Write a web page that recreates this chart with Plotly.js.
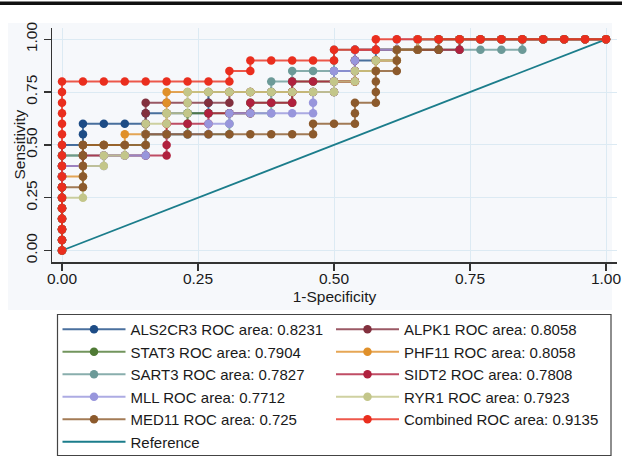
<!DOCTYPE html>
<html>
<head>
<meta charset="utf-8">
<script src="https://cdn.plot.ly/plotly-3.0.1.min.js"></script>
<style>html,body{margin:0;padding:0;background:#fff;}#chart{width:622px;height:458px;}</style>
</head>
<body>
<div id="chart"></div>
<script>
// ROC points: [1-specificity, sensitivity]
const als2cr3 = [[0,0],[0,.05],[0,.1],[0,.15],[0,.2],[0,.25],[0,.3],[0,.35],[0,.4],[0,.45],[0,.5],
 [.0385,.5],[.0385,.55],[.0385,.6],[.0769,.6],[.1154,.6],[.1538,.6],[.1538,.65],[.1923,.65],[.2308,.65],[.2692,.65],[.2692,.7],[.2692,.75],
 [.3077,.75],[.3462,.75],[.3846,.75],[.4231,.75],[.4615,.75],[.5,.75],[.5,.8],[.5,.85],[.5385,.85],[.5385,.9],[.5769,.9],[.5769,.95],[.6154,.95],[.6538,.95],[.6538,1],
 [.6923,1],[.7308,1],[.7692,1],[.8077,1],[.8462,1],[.8846,1],[.9231,1],[.9615,1],[1,1]];
const alpk1 = [[0,0],[0,.05],[0,.1],[0,.15],[0,.2],[0,.25],[0,.3],[0,.35],[0,.4],
 [.0385,.4],[.0385,.45],[.0385,.5],[.0769,.5],[.1154,.5],[.1538,.5],[.1538,.55],[.1538,.6],[.1538,.65],[.1538,.7],[.1923,.7],[.2308,.7],[.2692,.7],[.3077,.7],[.3077,.75],
 [.3462,.75],[.3846,.75],[.4231,.75],[.4615,.75],[.5,.75],[.5,.8],[.5385,.8],[.5385,.85],[.5769,.85],[.5769,.9],[.6154,.9],[.6154,.95],[.6538,.95],[.6538,1],
 [.6923,1],[.7308,1],[.7692,1],[.8077,1],[.8462,1],[.8846,1],[.9231,1],[.9615,1],[1,1]];
const stat3 = [[0,0],[0,.05],[0,.1],[0,.15],[0,.2],[0,.25],[0,.3],[0,.35],[0,.4],[0,.45],
 [.0385,.45],[.0385,.5],[.0769,.5],[.1154,.5],[.1538,.5],[.1538,.55],[.1923,.55],[.2308,.55],[.2308,.6],[.2308,.65],[.2692,.65],[.3077,.65],[.3462,.65],[.3462,.7],
 [.3846,.7],[.4231,.7],[.4231,.75],[.4231,.8],[.4615,.8],[.5,.8],[.5385,.8],[.5385,.85],[.5385,.9],[.5385,.95],[.5769,.95],[.6154,.95],[.6538,.95],[.6923,.95],[.7308,.95],[.7308,1],
 [.7692,1],[.8077,1],[.8462,1],[.8846,1],[.9231,1],[.9615,1],[1,1]];
const phf11 = [[0,0],[0,.05],[0,.1],[0,.15],[0,.2],[0,.25],[0,.3],[0,.35],
 [.0385,.35],[.0385,.4],[.0385,.45],[.0385,.5],[.0769,.5],[.1154,.5],[.1154,.55],[.1538,.55],[.1923,.55],[.1923,.6],[.1923,.65],[.1923,.7],[.1923,.75],
 [.2308,.75],[.2692,.75],[.3077,.75],[.3462,.75],[.3846,.75],[.4231,.75],[.4615,.75],[.5,.75],[.5,.8],[.5385,.8],[.5385,.85],[.5769,.85],[.5769,.9],[.6154,.9],[.6154,.95],[.6538,.95],[.6538,1],
 [.6923,1],[.7308,1],[.7692,1],[.8077,1],[.8462,1],[.8846,1],[.9231,1],[.9615,1],[1,1]];
const sart3 = [[0,0],[0,.05],[0,.1],[0,.15],[0,.2],[0,.25],[0,.3],[0,.35],[0,.4],[0,.45],
 [.0385,.45],[.0769,.45],[.1154,.45],[.1538,.45],[.1538,.5],[.1538,.55],[.1923,.55],[.2308,.55],[.2692,.55],[.3077,.55],[.3077,.6],[.3077,.65],[.3462,.65],[.3846,.65],
 [.3846,.7],[.3846,.75],[.3846,.8],[.4231,.8],[.4231,.85],[.4615,.85],[.5,.85],[.5,.9],[.5,.95],[.5385,.95],[.5769,.95],[.6154,.95],[.6538,.95],[.6923,.95],[.7308,.95],
 [.7692,.95],[.8077,.95],[.8462,.95],[.8462,1],[.8846,1],[.9231,1],[.9615,1],[1,1]];
const sidt2 = [[0,0],[0,.05],[0,.1],[0,.15],[0,.2],[0,.25],[0,.3],[0,.35],[0,.4],
 [.0385,.4],[.0385,.45],[.0769,.45],[.1154,.45],[.1538,.45],[.1923,.45],[.1923,.5],[.1923,.55],[.1923,.6],[.2308,.6],[.2692,.6],[.2692,.65],[.3077,.65],[.3462,.65],[.3462,.7],
 [.3846,.7],[.4231,.7],[.4231,.75],[.4231,.8],[.4615,.8],[.5,.8],[.5385,.8],[.5385,.85],[.5385,.9],[.5385,.95],[.5769,.95],[.6154,.95],[.6538,.95],[.6923,.95],[.7308,.95],[.7308,1],
 [.7692,1],[.8077,1],[.8462,1],[.8846,1],[.9231,1],[.9615,1],[1,1]];
const mll = [[0,0],[0,.05],[0,.1],[0,.15],[0,.2],[0,.25],[0,.3],[0,.35],[0,.4],
 [.0385,.4],[.0769,.4],[.0769,.45],[.1154,.45],[.1538,.45],[.1538,.5],[.1538,.55],[.1923,.55],[.2308,.55],[.2692,.55],[.2692,.6],[.3077,.6],[.3077,.65],[.3462,.65],
 [.3846,.65],[.4231,.65],[.4615,.65],[.4615,.7],[.4615,.75],[.5,.75],[.5,.8],[.5,.85],[.5385,.85],[.5385,.9],[.5385,.95],[.5769,.95],[.6154,.95],[.6154,1],
 [.6538,1],[.6923,1],[.7308,1],[.7692,1],[.8077,1],[.8462,1],[.8846,1],[.9231,1],[.9615,1],[1,1]];
const ryr1 = [[0,0],[0,.05],[0,.1],[0,.15],[0,.2],[0,.25],
 [.0385,.25],[.0385,.3],[.0385,.35],[.0385,.4],[.0769,.4],[.0769,.45],[.1154,.45],[.1154,.5],[.1538,.5],[.1538,.55],[.1538,.6],[.1923,.6],[.1923,.65],[.2308,.65],[.2308,.7],[.2308,.75],
 [.2692,.75],[.3077,.75],[.3462,.75],[.3846,.75],[.4231,.75],[.4615,.75],[.5,.75],[.5,.8],[.5385,.8],[.5385,.85],[.5769,.85],[.5769,.9],[.6154,.9],[.6154,.95],[.6538,.95],[.6538,1],
 [.6923,1],[.7308,1],[.7692,1],[.8077,1],[.8462,1],[.8846,1],[.9231,1],[.9615,1],[1,1]];
const med11 = [[0,0],[0,.05],[0,.1],[0,.15],[0,.2],[0,.25],[0,.3],
 [.0385,.3],[.0385,.35],[.0385,.4],[.0385,.45],[.0385,.5],[.0769,.5],[.1154,.5],[.1538,.5],[.1538,.55],[.1923,.55],[.2308,.55],[.2692,.55],[.3077,.55],[.3462,.55],[.3846,.55],[.4231,.55],[.4615,.55],
 [.4615,.6],[.5,.6],[.5385,.6],[.5385,.65],[.5385,.7],[.5769,.7],[.5769,.75],[.5769,.8],[.5769,.85],[.6154,.85],[.6154,.9],[.6154,.95],[.6538,.95],[.6923,.95],[.6923,1],
 [.7308,1],[.7692,1],[.8077,1],[.8462,1],[.8846,1],[.9231,1],[.9615,1],[1,1]];
const combined = [[0,0],[0,.05],[0,.1],[0,.15],[0,.2],[0,.25],[0,.3],[0,.35],[0,.4],[0,.45],[0,.5],[0,.55],[0,.6],[0,.65],[0,.7],[0,.75],[0,.8],
 [.0385,.8],[.0769,.8],[.1154,.8],[.1538,.8],[.1923,.8],[.2308,.8],[.2692,.8],[.3077,.8],[.3077,.85],[.3462,.85],[.3462,.9],[.3846,.9],[.4231,.9],[.4615,.9],[.5,.9],
 [.5,.95],[.5385,.95],[.5769,.95],[.5769,1],[.6154,1],[.6538,1],[.6923,1],[.7308,1],[.7692,1],[.8077,1],[.8462,1],[.8846,1],[.9231,1],[.9615,1],[1,1]];
const reference = [[0,0],[1,1]];

const seriesData = [als2cr3, alpk1, stat3, phf11, sart3, sidt2, mll, ryr1, med11, combined];
const seriesNames = ['ALS2CR3 ROC area: 0.8231','ALPK1 ROC area: 0.8058','STAT3 ROC area: 0.7904','PHF11 ROC area: 0.8058',
  'SART3 ROC area: 0.7827','SIDT2 ROC area: 0.7808','MLL ROC area: 0.7712','RYR1 ROC area: 0.7923','MED11 ROC area: 0.725','Combined ROC area: 0.9135'];
const seriesColors = ['#1d4c86','#82303e','#4f7a35','#e0902a','#6c9a98','#b0213e','#9896dc','#c3c68a','#8c5a2c','#ea2e1e'];
const refName = 'Reference';
const refColor = '#1b7d8b';

const tickVals = [0, 0.25, 0.5, 0.75, 1];
const tickText = ['0.00','0.25','0.50','0.75','1.00'];
const xTitle = '1-Specificity';
const yTitle = 'Sensitivity';

function rgba(hex, a){
  const n = parseInt(hex.slice(1),16);
  return 'rgba(' + ((n>>16)&255) + ',' + ((n>>8)&255) + ',' + (n&255) + ',' + a + ')';
}

const FONT = '"Liberation Sans", Arial, Helvetica, sans-serif';
const traces = [];
traces.push({
  x: reference.map(p=>p[0]), y: reference.map(p=>p[1]),
  type:'scatter', mode:'lines', name: refName,
  line:{color: refColor, width:1.8}, legendrank: 1100, hoverinfo:'skip'
});
seriesData.forEach((pts,k)=>{
  traces.push({
    x: pts.map(p=>p[0]), y: pts.map(p=>p[1]),
    type:'scatter', mode:'lines+markers', name: seriesNames[k],
    line:{color: rgba(seriesColors[k],0.8), width:2},
    marker:{color: seriesColors[k], size:8.5, line:{width:0}},
    legendrank: (k+1)*10, cliponaxis:false
  });
});

const L = 52, W = 565, T = 28, H = 234;
function px2x(p){ return (p-L)/W; }
function px2y(p){ return (T+H-p)/H; }

const layout = {
  width:622, height:458,
  margin:{l:L, r:622-L-W, t:T, b:458-T-H, pad:0, autoexpand:false},
  paper_bgcolor:'#ffffff', plot_bgcolor:'rgba(0,0,0,0)',
  font:{family:FONT, color:'#1a1a1a', size:15},
  showlegend:true,
  xaxis:{
    range:[-0.0184, 1.0202], tickvals:tickVals, ticktext:tickText,
    ticks:'outside', ticklen:7, tickwidth:1.3, tickcolor:'#333', ticklabelstandoff:-5,
    showline:true, linecolor:'#333', linewidth:1.5, mirror:false,
    showgrid:true, gridcolor:'#dceaf3', gridwidth:1, zeroline:false,
    tickfont:{size:15.5, family:FONT, color:'#1a1a1a'},
    title:{text:xTitle, font:{size:15.5, family:FONT, color:'#1a1a1a'}, standoff:5},
    automargin:false, fixedrange:true
  },
  yaxis:{
    range:[-0.0545, 1.0535], tickvals:tickVals, ticktext:tickText, tickangle:-90,
    ticks:'outside', ticklen:7, tickwidth:1.3, tickcolor:'#333',
    showline:true, linecolor:'#333', linewidth:1.5,
    showgrid:true, gridcolor:'#dceaf3', gridwidth:1, zeroline:false,
    tickfont:{size:15.5, family:FONT, color:'#1a1a1a'},
    automargin:false, fixedrange:true
  },
  annotations:[
    {text:yTitle, xref:'paper', yref:'paper', x:px2x(18.5), y:px2y(145), xanchor:'center', yanchor:'middle',
     textangle:-90, showarrow:false, font:{size:15.5, family:FONT, color:'#1a1a1a'}}
  ],
  legend:{
    orientation:'h', x:px2x(57.5), y:px2y(313), xanchor:'left', yanchor:'top',
    entrywidth:195.5, entrywidthmode:'pixels', itemwidth:63,
    font:{size:15, family:FONT, color:'#1a1a1a'},
    bgcolor:'rgba(0,0,0,0)', bordercolor:'rgba(0,0,0,0)', borderwidth:0,
    traceorder:'normal', itemclick:false, itemdoubleclick:false
  },
  shapes:[
    {type:'rect', xref:'paper', yref:'paper', x0:px2x(8), x1:px2x(612), y0:px2y(310), y1:px2y(23),
     fillcolor:'#f6f8fb', line:{width:0}, layer:'below'},
    {type:'rect', xref:'paper', yref:'paper', x0:px2x(57.5), x1:px2x(611), y0:px2y(455.5), y1:px2y(314.5),
     fillcolor:'#ffffff', line:{color:'#444', width:1.2}, layer:'above'},
    {type:'line', xref:'paper', yref:'paper', x0:px2x(0), x1:px2x(622), y0:px2y(3.2), y1:px2y(3.2),
     line:{color:'#111', width:3.5}}
  ]
};

Plotly.newPlot('chart', traces, layout, {displayModeBar:false, staticPlot:true});
</script>
</body>
</html>
